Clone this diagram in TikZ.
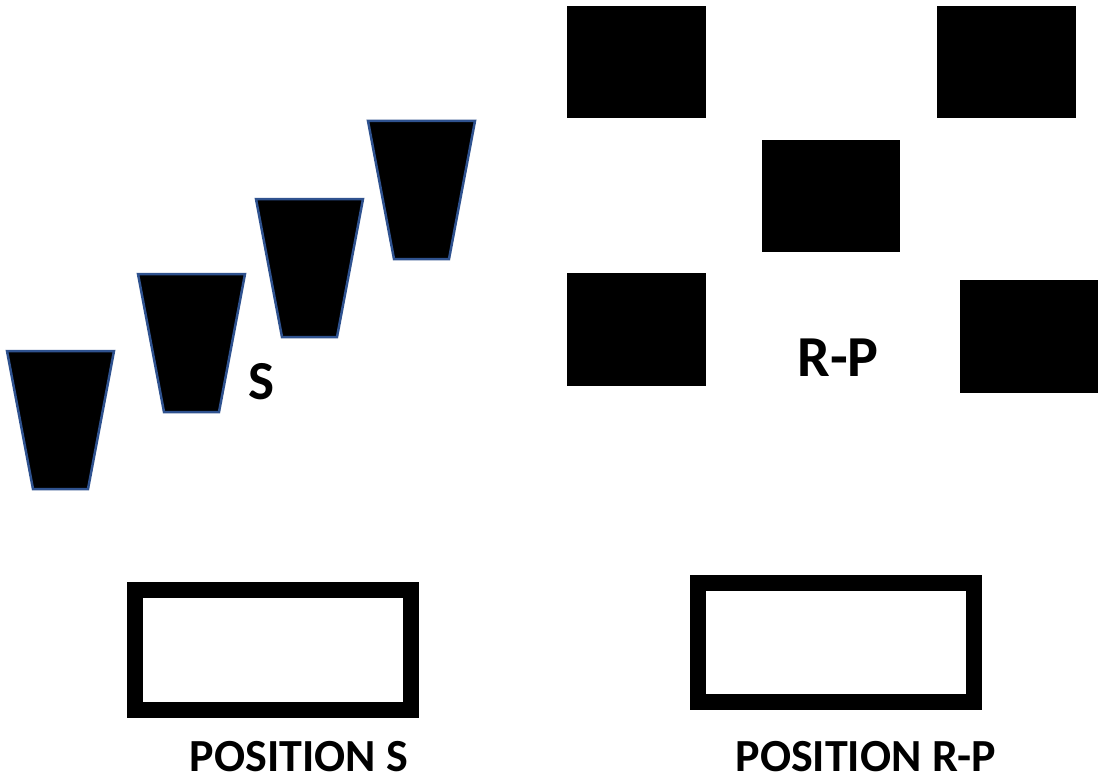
\documentclass[tikz,border=0pt]{standalone}
\usepackage{fontspec}
\setmainfont{Carlito}
\usepackage{tikz}
\usetikzlibrary{calc}

\begin{document}
\begin{tikzpicture}[x=1pt,y=-1pt,
	cup/.style={fill=black,draw={rgb,255:red,47;green,82;blue,143},line width=2.5pt,line join=miter},
	block/.style={fill=black},
	frame/.style={draw=black,line width=16pt},
	lbl/.style={font=\bfseries,inner sep=0pt}]
	\def \tw {107}
	\def \bw {55}
	\def \th {138}
	\def \dx {26}
	
	\useasboundingbox (0,0) rectangle (1103,781);
	
	%cups of position S
	\draw[cup] (7,351) -- ++(\tw,0) -- ++(-\dx,\th) -- ++(-\bw,0) -- cycle;
	\draw[cup] (138,274) -- ++(\tw,0) -- ++(-\dx,\th) -- ++(-\bw,0) -- cycle;
	\draw[cup] (256,199) -- ++(\tw,0) -- ++(-\dx,\th) -- ++(-\bw,0) -- cycle;
	\draw[cup] (368,121) -- ++(\tw,0) -- ++(-\dx,\th) -- ++(-\bw,0) -- cycle;
	
	%blocks of position R-P
	\fill[block] (567,6) rectangle +(139,112);
	\fill[block] (937,6) rectangle +(139,112);
	\fill[block] (762,140) rectangle +(138,112);
	\fill[block] (567,273) rectangle +(139,113);
	\fill[block] (960,280) rectangle +(138,113);
	
	%frames
	\draw[frame] (135,590) rectangle (411,710);
	\draw[frame] (698,583) rectangle (974,702);
	
	%labels
	\node[lbl,font=\fontsize{55}{55}\selectfont\bfseries] (s) at (261,382) {S};
	\node[lbl,font=\fontsize{58}{58}\selectfont\bfseries] (rp) at (838,358) {R-P};
	\node[lbl,font=\fontsize{46}{46}\selectfont\bfseries] (poss) at (299,757) {POSITION S};
	\node[lbl,font=\fontsize{46}{46}\selectfont\bfseries] (posrp) at (866,757) {POSITION R-P};
\end{tikzpicture}
\end{document}
